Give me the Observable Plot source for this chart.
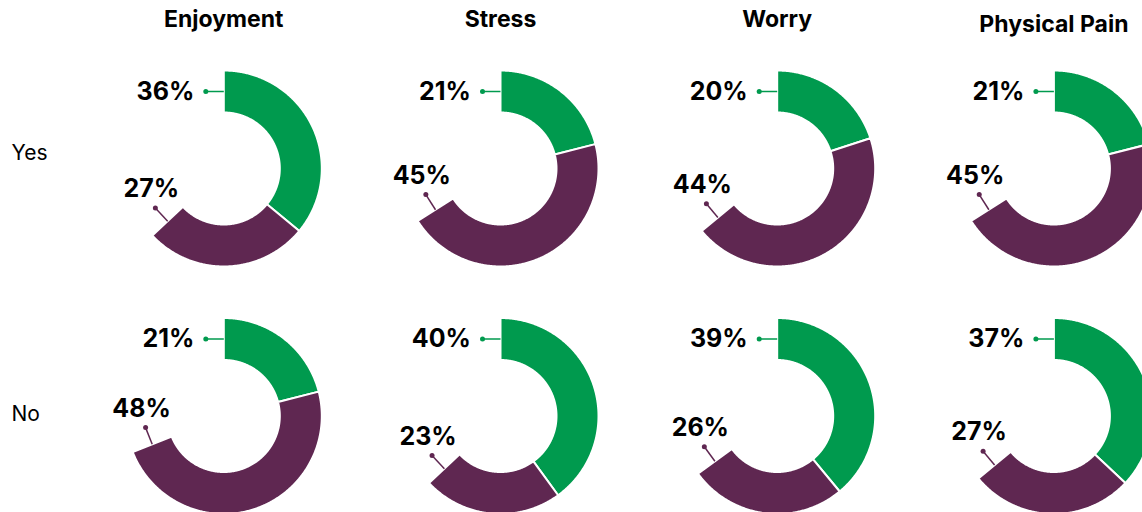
<!DOCTYPE html>
<html><head><meta charset="utf-8">
<script src="https://cdn.jsdelivr.net/npm/d3@7"></script>
<script src="https://cdn.jsdelivr.net/npm/@observablehq/plot@0.6"></script>
<style>html,body{margin:0;padding:0;background:#fff;overflow:hidden}</style>
</head><body><div id="chart"></div>
<script>
// ---- data ----
const questions = ["Enjoyment", "Stress", "Worry", "Physical Pain"];
const answers = ["Yes", "No"];
const greenYes = [36, 21, 20, 21];
const purpleYes = [27, 45, 44, 45];
const greenNo = [21, 40, 39, 37];
const purpleNo = [48, 23, 26, 27];

// ---- styling / layout ----
const GREEN = "#009a4e", PURPLE = "#5f2751";
const W = 1142, H = 512;
const colStep = 276.7, rowStep = 247.5;
const firstCol = 223.3, firstRow = 168;
const R_OUT = 98, R_IN = 56, R_MID = 77, LEAD = 18;
const halfW = W - (firstCol + 3 * colStep);
const halfH = H - (firstRow + rowStep);
const marginLeft = firstCol - halfW;
const marginTop = firstRow - halfH;
const padInnerX = 1 - 2 * halfW / colStep;
const padInnerY = 1 - 2 * halfH / rowStep;
const FONT = "Inter, 'Liberation Sans', sans-serif";

const rows = [];
questions.forEach((q, i) => {
  rows.push({question: q, answer: "Yes", green: greenYes[i], purple: purpleYes[i]});
  rows.push({question: q, answer: "No", green: greenNo[i], purple: purpleNo[i]});
});

function ring(row, key, p0, p1) {
  const pts = [];
  const n = Math.max(2, Math.ceil((p1 - p0) * 7.2));
  const ang = k => (p0 + (p1 - p0) * k / n) / 100 * 2 * Math.PI;
  for (let k = 0; k <= n; k++) { const t = ang(k); pts.push({question: row.question, answer: row.answer, key, x: R_OUT * Math.sin(t), y: R_OUT * Math.cos(t)}); }
  for (let k = n; k >= 0; k--) { const t = ang(k); pts.push({question: row.question, answer: row.answer, key, x: R_IN * Math.sin(t), y: R_IN * Math.cos(t)}); }
  return pts;
}
const greenPts = rows.flatMap(r => ring(r, r.question + r.answer + "g", 0, r.green));
const purplePts = rows.flatMap(r => ring(r, r.question + r.answer + "p", r.green, r.green + r.purple));

const greenLead = rows.map(r => ({...r, x1: 0, y1: R_MID, x2: -LEAD, y2: R_MID}));
const purpleLead = rows.map(r => {
  const t = (r.green + r.purple) / 100 * 2 * Math.PI;
  const x1 = R_MID * Math.sin(t), y1 = R_MID * Math.cos(t);
  return {...r, x1, y1, x2: x1 + LEAD * Math.cos(t), y2: y1 - LEAD * Math.sin(t)};
});

const headerStyle = {anchor: "top", tickSize: 0, fontSize: 23, fontWeight: 700, fontFamily: FONT, label: null, fill: "#000"};
const rowStyle = {anchor: "left", tickSize: 0, tickPadding: marginLeft - 11, textAnchor: "start", fontSize: 21, fontFamily: FONT, label: null, fill: "#000"};

const chart = Plot.plot({
  width: W, height: H,
  marginLeft, marginTop, marginRight: 0, marginBottom: 0,
  x: {domain: [-halfW, halfW], axis: null},
  y: {domain: [-halfH, halfH], axis: null},
  fx: {domain: questions, paddingInner: padInnerX, paddingOuter: 0, round: false},
  fy: {domain: answers, paddingInner: padInnerY, paddingOuter: 0, round: false},
  style: {fontFamily: FONT, background: "#fff", color: "#000"},
  marks: [
    Plot.axisFx({...headerStyle, ticks: questions.slice(0, 3), tickPadding: 45}),
    Plot.axisFx({...headerStyle, ticks: questions.slice(3), tickPadding: 40}),
    Plot.axisFy({...rowStyle, ticks: ["Yes"], dy: -15}),
    Plot.axisFy({...rowStyle, ticks: ["No"], dy: -2}),
    Plot.line(greenPts, {x: "x", y: "y", z: "key", fx: "question", fy: "answer", fill: GREEN, stroke: "#fff", strokeWidth: 2, curve: "linear-closed"}),
    Plot.line(purplePts, {x: "x", y: "y", z: "key", fx: "question", fy: "answer", fill: PURPLE, stroke: "#fff", strokeWidth: 2, curve: "linear-closed"}),
    Plot.link(greenLead, {x1: "x1", y1: "y1", x2: "x2", y2: "y2", fx: "question", fy: "answer", stroke: GREEN, strokeWidth: 1.5}),
    Plot.link(purpleLead, {x1: "x1", y1: "y1", x2: "x2", y2: "y2", fx: "question", fy: "answer", stroke: PURPLE, strokeWidth: 1.5}),
    Plot.dot(greenLead, {x: "x2", y: "y2", fx: "question", fy: "answer", r: 2.5, fill: GREEN, stroke: null}),
    Plot.dot(purpleLead, {x: "x2", y: "y2", fx: "question", fy: "answer", r: 2.5, fill: PURPLE, stroke: null}),
    Plot.text(greenLead, {x: "x2", y: "y2", fx: "question", fy: "answer", text: d => d.green + "%", textAnchor: "end", dx: -11.5, fontSize: 25, fontWeight: 700, fontFamily: FONT, fill: "#000"}),
    Plot.text(purpleLead, {x: "x2", y: "y2", fx: "question", fy: "answer", text: d => d.purple + "%", textAnchor: "middle", dx: -4, dy: -19, fontSize: 25, fontWeight: 700, fontFamily: FONT, fill: "#000"})
  ]
});
document.getElementById("chart").appendChild(chart);
</script>
</body></html>
